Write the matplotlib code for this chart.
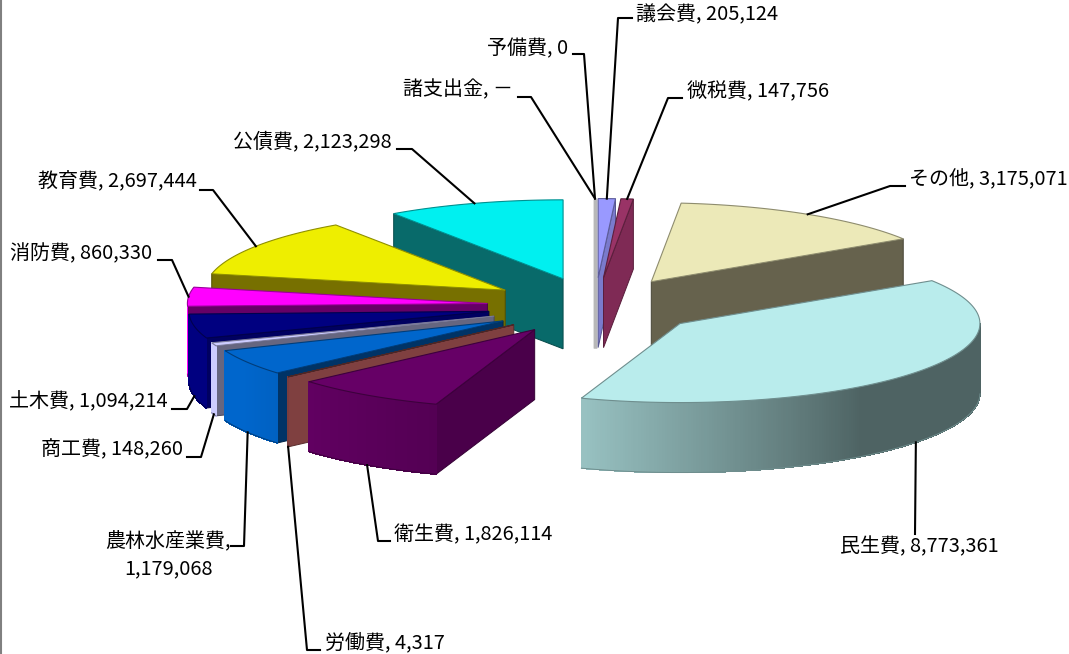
import numpy as np
import matplotlib
matplotlib.use("Agg")
import matplotlib.pyplot as plt
from matplotlib.colors import to_rgb
from matplotlib.patches import Polygon

plt.rcParams['font.family'] = ['Noto Sans CJK JP', 'DejaVu Sans']

# clockwise from 12 o'clock
names = ["議会費", "微税費", "その他", "民生費", "衛生費", "労働費", "農林水産業費",
         "商工費", "土木費", "消防費", "教育費", "公債費", "諸支出金", "予備費"]
values = [205124, 147756, 3175071, 8773361, 1826114, 4317, 1179068,
          148260, 1094214, 860330, 2697444, 2123298, 0, 0]
value_text = ["205,124", "147,756", "3,175,071", "8,773,361", "1,826,114", "4,317", "1,179,068",
              "148,260", "1,094,214", "860,330", "2,697,444", "2,123,298", "－", "0"]

top_colors = ["#9999ff", "#993366", "#ece9b8", "#b9ecec", "#660066", "#7f4040", "#0066cc",
              "#ccccff", "#000080", "#ff00ff", "#eeee00", "#00f0f0", "#c0c0c0", "#c0c0c0"]
wall_colors = ["#7a7acc", "#7f2a55", "#66624d", "#4d6666", "#4a004a", "#7f4040", "#003366",
               "#666680", "#000060", "#660066", "#777000", "#086a6a", "#a0a0a0", "#a0a0a0"]

# pie geometry in pixels
cx, cy = 595, 306
radius = 300
squash = 79 / 300
explode = 108
depth = 70

# label layout: text x, text y, ha, elbow points after the slice edge
layout = {
    "議会費": (636, 15, "left", [(618, 18), (632, 18)]),
    "微税費": (687, 92, "left", [(668, 98), (682, 98)]),
    "その他": (909, 180, "left", [(890, 186), (905, 186)]),
    "民生費": (919, 547, "center", [(915, 534)]),
    "衛生費": (394, 535, "left", [(378, 541), (390, 541)]),
    "労働費": (325, 643, "left", [(307, 650), (320, 650)]),
    "農林水産業費": (168, 555, "center", [(244, 546), (231, 546)]),
    "商工費": (183, 450, "right", [(201, 457), (187, 457)]),
    "土木費": (168, 402, "right", [(187, 409), (172, 409)]),
    "消防費": (152, 254, "right", [(172, 260), (158, 260)]),
    "教育費": (197, 182, "right", [(213, 190), (200, 190)]),
    "公債費": (392, 142, "right", [(412, 149), (397, 149)]),
    "諸支出金": (513, 90, "right", [(531, 97), (518, 97)]),
    "予備費": (568, 49, "right", [(584, 54), (573, 54)]),
}


def darker(color, f):
    return tuple(c * f for c in to_rgb(color))


def arc_shade(t):
    return np.interp(t, [143, 199, 240], [0.42, 0.82, 1.0])


fig = plt.figure(figsize=(10.69, 6.54), dpi=100)
ax = fig.add_axes([0, 0, 1, 1])
ax.set_xlim(0, 1069)
ax.set_ylim(654, 0)
ax.axis("off")

total = sum(values)
ends = np.cumsum(values) / total * 360
starts = ends - np.array(values) / total * 360
mids = (starts + ends) / 2

# far slices first
order = np.argsort(-np.cos(np.radians(mids)))

anchors = {}
for i in order:
    t0, t1 = starts[i], ends[i]
    m = np.radians(mids[i])
    ax0 = cx + explode * np.sin(m)
    ay0 = cy - explode * squash * np.cos(m)

    ts = np.linspace(t0, t1, max(int((t1 - t0) * 2), 2))
    px = ax0 + radius * np.sin(np.radians(ts))
    py = ay0 - radius * squash * np.cos(np.radians(ts))

    # leader starts at the middle of the rim
    lx = ax0 + radius * np.sin(m)
    ly = ay0 - radius * squash * np.cos(m)
    if np.cos(m) < 0 and mids[i] < 262:
        ly += depth
    anchors[names[i]] = (lx, ly)

    if values[i] == 0:
        ax.plot([ax0, ax0], [ay0 - radius * squash, ay0 + depth],
                color="#b8b8b8", lw=2.5, solid_capstyle="butt", zorder=3)
        continue

    edge = darker(top_colors[i], 0.6)
    wall_edge = darker(wall_colors[i], 0.7)

    # radial walls
    if np.sin(np.radians(t0)) < 0:
        wall = [(ax0, ay0), (px[0], py[0]), (px[0], py[0] + depth), (ax0, ay0 + depth)]
        ax.add_patch(Polygon(wall, fc=wall_colors[i], ec=wall_edge, lw=0.7, zorder=3))
    if np.sin(np.radians(t1)) > 0:
        wall = [(ax0, ay0), (px[-1], py[-1]), (px[-1], py[-1] + depth), (ax0, ay0 + depth)]
        ax.add_patch(Polygon(wall, fc=wall_colors[i], ec=wall_edge, lw=0.7, zorder=3))

    # outer rim, front half only
    for j in range(len(ts) - 1):
        tm = (ts[j] + ts[j + 1]) / 2
        if np.cos(np.radians(tm)) >= 0:
            continue
        c = darker(top_colors[i], arc_shade(tm))
        quad = [(px[j], py[j]), (px[j + 1], py[j + 1]),
                (px[j + 1], py[j + 1] + depth), (px[j], py[j] + depth)]
        ax.add_patch(Polygon(quad, fc=c, ec=c, lw=0.5, antialiased=False, zorder=3))
    front = np.cos(np.radians(ts)) < 0
    if front.any():
        ax.plot(px[front], py[front] + depth, color=edge, lw=0.7, zorder=3)

    # top face
    top = [(ax0, ay0)] + list(zip(px, py))
    ax.add_patch(Polygon(top, fc=top_colors[i], ec=edge, lw=0.8, zorder=3))

# leaders and labels
for name, val in zip(names, value_text):
    tx, ty, ha, elbow = layout[name]
    xs = [anchors[name][0]] + [p[0] for p in elbow]
    ys = [anchors[name][1]] + [p[1] for p in elbow]
    ax.plot(xs, ys, color="black", lw=1.5, zorder=4)
    label = name + ", " + val
    if name == "農林水産業費":
        label = name + ",\n" + val
    ax.text(tx, ty, label, ha=ha, va="center", fontsize=14.4, color="black",
            linespacing=1.35, zorder=5)

# left frame of the chart area
ax.plot([1, 1], [0, 654], color="#808080", lw=1.5, clip_on=False)

fig.savefig("out.png", dpi=100, facecolor="white")
